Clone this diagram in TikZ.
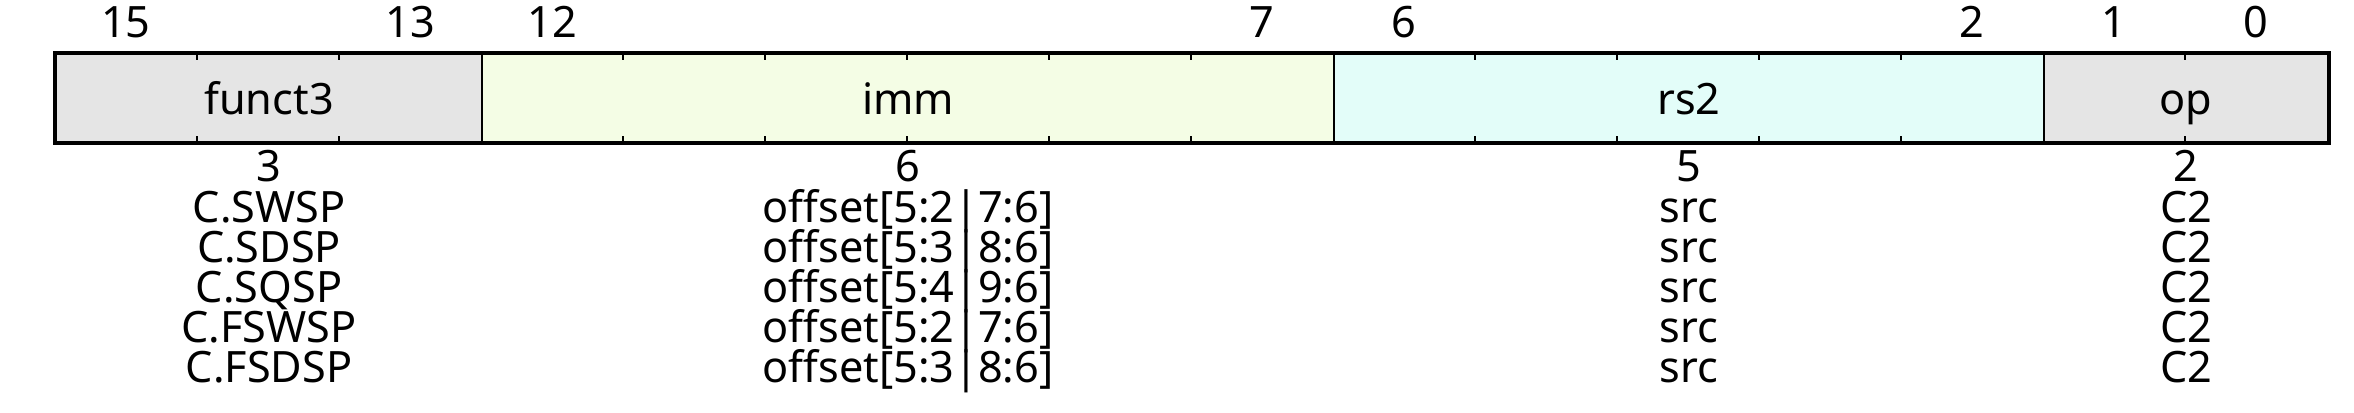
\documentclass[tikz,border=0pt]{standalone}
\usepackage{fontspec}
\setmainfont{Noto Sans}
\usepackage{xcolor}
\usetikzlibrary{positioning}
\definecolor{fieldgray}{HTML}{E5E5E5}
\definecolor{immfill}{HTML}{F4FDE5}
\definecolor{rsfill}{HTML}{E3FDF9}
\newcommand{\bitw}{1.42}

\begin{document}
\begin{tikzpicture}[
  font=\fontsize{12.3}{12.3}\selectfont,
  field/.style={draw, line width=0.6pt, anchor=north west, inner sep=0pt,
    minimum height=0.89cm, text height=9.5pt, text depth=0pt},
  tick/.style={line width=0.6pt},
  bitnum/.style={anchor=base, inner sep=0pt},
  rowtext/.style={anchor=base, inner sep=0pt}
]
\useasboundingbox (0,0) rectangle (23.54,-4.13);

% fields: name / first bit slot / width / fill
\foreach \fname/\fstart/\fwidth/\fcol in {funct3/0/3/fieldgray, imm/3/6/immfill, rs2/9/5/rsfill, op/14/2/fieldgray}{
  \node[field, fill=\fcol, minimum width=\fwidth*\bitw cm] (\fname) at ({0.55+\fstart*\bitw},-0.525) {\fname};
  \pgfmathtruncatemacro{\flast}{\fwidth-1}
  \ifnum\flast>0
    \foreach \t in {1,...,\flast}{
      \draw[tick] ([xshift=\t*\bitw cm]\fname.north west) -- ++(0,-0.08);
      \draw[tick] ([xshift=\t*\bitw cm]\fname.south west) -- ++(0,0.08);
    }
  \fi
}
\draw[line width=0.9pt] (funct3.north west) rectangle (op.south east);

% bit numbers
\foreach \b in {15,13,12,7,6,2,1,0}{
  \node[bitnum] (bit\b) at ({0.55+(15.5-\b)*\bitw},-0.38) {\b};
}

% widths
\node[rowtext] (wfunct3) at (funct3.south |- 0,-1.82) {3};
\node[rowtext] (wimm) at (imm.south |- 0,-1.82) {6};
\node[rowtext] (wrs2) at (rs2.south |- 0,-1.82) {5};
\node[rowtext] (wop) at (op.south |- 0,-1.82) {2};

% instruction rows
\foreach \ins/\lo/\hi [count=\k] in {C.SWSP/5:2/7:6, C.SDSP/5:3/8:6, C.SQSP/5:4/9:6, C.FSWSP/5:2/7:6, C.FSDSP/5:3/8:6}{
  \node[rowtext] (ins\k) at (funct3.south |- 0,{-1.82-0.402*\k}) {\ins};
  \node[rowtext] (off\k) at (imm.south |- 0,{-1.82-0.402*\k}) {offset[\lo|\hi]};
  \node[rowtext] (src\k) at (rs2.south |- 0,{-1.82-0.402*\k}) {src};
  \node[rowtext] (opc\k) at (op.south |- 0,{-1.82-0.402*\k}) {C2};
}
\end{tikzpicture}
\end{document}
